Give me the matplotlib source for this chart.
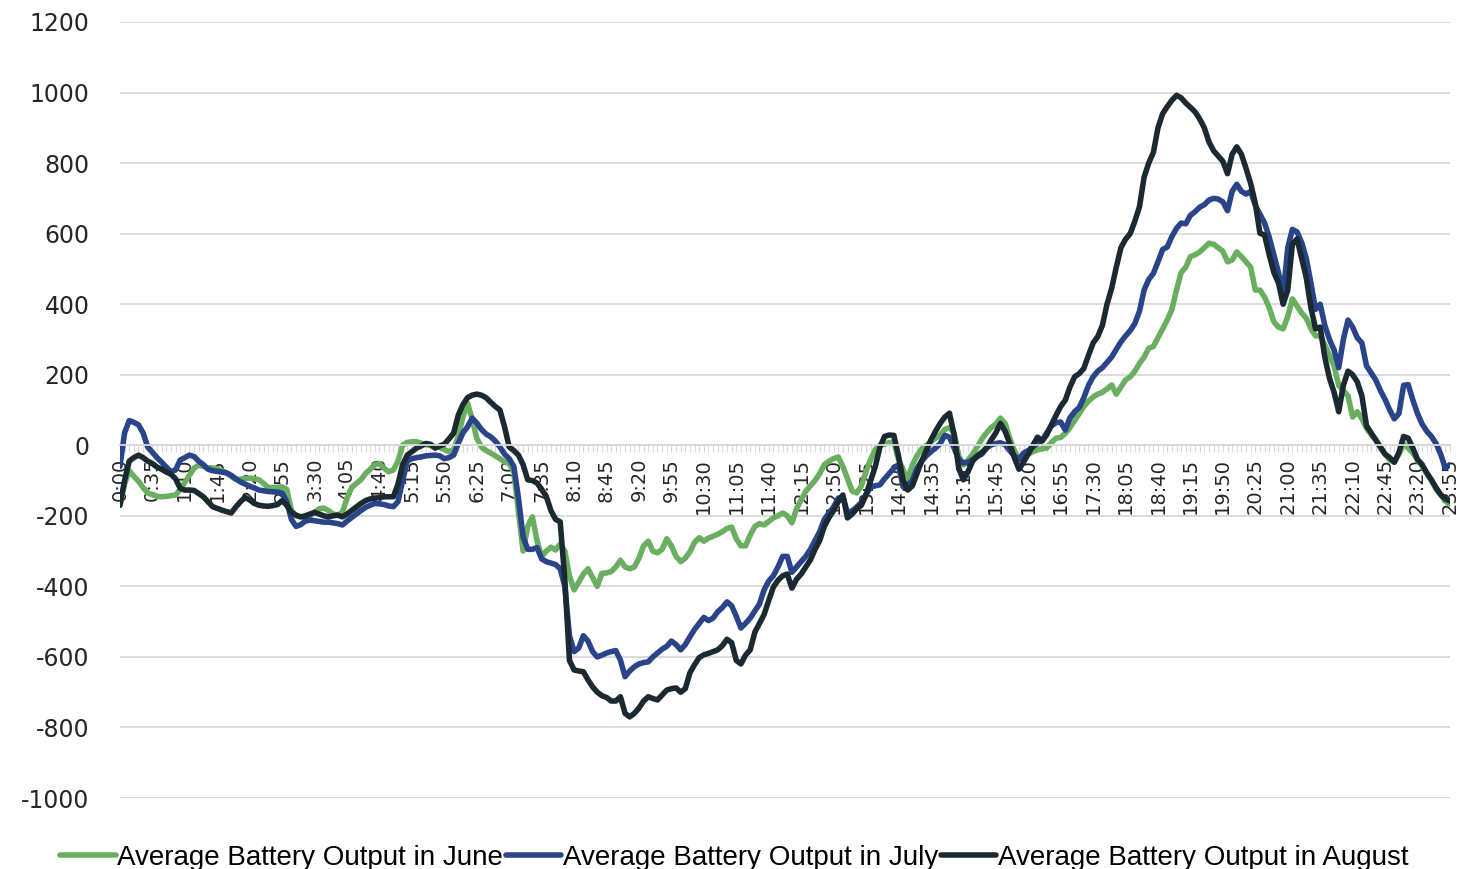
import numpy as np
import matplotlib.pyplot as plt

plt.rcParams['axes.unicode_minus'] = False

# 5-minute slots from 0:00 to 23:55
times = [f"{m // 60}:{m % 60:02d}" for m in range(0, 24 * 60, 5)]

# Average battery output per slot (one row per hour, 12 values each)
june = [
    -170, -110, -72, -88, -102, -120, -135, -140, -145, -146, -145, -143,
    -141, -125, -105, -85, -65, -56, -60, -64, -65, -66, -72, -79,
    -88, -97, -96, -94, -93, -95, -98, -108, -120, -120, -119, -118,
    -125, -185, -200, -203, -203, -200, -190, -180, -178, -185, -195, -198,
    -190, -150, -120, -108, -98, -80, -68, -55, -52, -65, -75, -70,
    -45, 0, 8, 10, 10, 6, 2, -1, -3, -6, -12, -18,
    -13, 25, 80, 120, 75, 20, -5, -15, -22, -30, -38, -47,
    -52, -75, -190, -300, -230, -203, -270, -315, -300, -289, -297, -280,
    -300, -370, -410, -388, -365, -350, -375, -400, -363, -362, -358, -345,
    -326, -345, -350, -345, -320, -285, -272, -300, -305, -295, -265, -285,
    -315, -330, -320, -302, -275, -262, -272, -263, -258, -252, -245, -236,
    -232, -265, -285, -285, -255, -230, -222, -226, -216, -206, -200, -192,
    -200, -220, -180, -155, -130, -115, -100, -80, -55, -45, -38, -33,
    -60, -95, -130, -135, -115, -75, -40, -12, 0, 3, 8, 10,
    -40, -70, -98, -55, -30, -10, 0, 10, 20, 29, 45, 50,
    35, -30, -56, -42, -25, -5, 18, 35, 50, 60, 77, 62,
    20, -15, -40, -35, -25, -18, -13, -10, -8, 8, 20, 22,
    34, 50, 70, 90, 110, 125, 137, 145, 150, 160, 171, 145,
    165, 185, 194, 210, 232, 250, 275, 280, 305, 330, 355, 385,
    440, 490, 505, 535, 540, 548, 560, 573, 570, 560, 550, 520,
    525, 548, 535, 520, 505, 440, 440, 420, 390, 350, 335, 330,
    365, 415, 395, 375, 360, 330, 310, 310, 285, 255, 225, 170,
    155, 140, 80, 95, 75, 48, 30, 15, -8, -25, -42, -48,
    -25, 5, -8, -22, -42, -58, -80, -100, -125, -140, -158, -168,
]

july = [
    -60, 35, 70, 65, 58, 35, -5, -20, -35, -48, -62, -75,
    -70, -42, -35, -28, -32, -45, -55, -68, -72, -74, -76, -78,
    -85, -95, -104, -110, -116, -121, -127, -129, -131, -132, -133, -135,
    -160, -210, -230, -225, -215, -212, -214, -216, -218, -218, -220, -222,
    -226, -215, -205, -195, -185, -176, -170, -165, -166, -168, -172, -174,
    -160, -100, -45, -38, -35, -33, -30, -29, -28, -30, -38, -35,
    -28, 5, 35, 52, 77, 63, 45, 32, 24, 12, -5, -25,
    -38, -60, -150, -260, -295, -295, -290, -322, -330, -334, -338, -350,
    -400, -540, -585, -575, -540, -555, -585, -600, -595, -589, -585, -582,
    -609, -656, -640, -628, -620, -616, -614, -600, -589, -578, -570, -555,
    -565, -580, -565, -543, -522, -505, -488, -497, -490, -472, -460, -444,
    -455, -485, -518, -505, -490, -470, -450, -410, -385, -370, -345, -315,
    -315, -360, -345, -330, -315, -295, -270, -245, -210, -192, -175, -150,
    -146, -192, -186, -175, -162, -140, -118, -115, -112, -95, -80, -65,
    -55, -118, -112, -100, -65, -45, -30, -18, -8, 5, 28, 23,
    -8, -40, -50, -48, -40, -32, -25, -8, 1, 5, 7, 2,
    -15, -30, -40, -22, -15, -5, 5, 14, 35, 55, 64, 66,
    43, 78, 95, 107, 135, 170, 194, 210, 220, 235, 250, 272,
    293, 310, 325, 345, 380, 440, 470, 487, 520, 555, 562, 592,
    615, 630, 628, 652, 662, 675, 682, 695, 700, 698, 690, 665,
    720, 740, 720, 712, 720, 680, 655, 630, 590, 540, 490, 425,
    560, 612, 605, 575, 530, 460, 385, 400, 340, 300, 270, 220,
    300, 355, 335, 305, 290, 225, 205, 185, 155, 130, 100, 75,
    90, 170, 172, 128, 90, 60, 40, 25, 5, -25, -65, -55,
]

august = [
    -170, -100, -45, -35, -28, -35, -45, -52, -62, -68, -76, -82,
    -95, -122, -127, -127, -128, -137, -146, -160, -174, -179, -184, -188,
    -192, -175, -160, -148, -155, -165, -170, -172, -173, -171, -168, -157,
    -170, -190, -198, -203, -200, -195, -190, -195, -200, -203, -200, -198,
    -203, -195, -185, -175, -165, -157, -152, -150, -148, -146, -146, -146,
    -110, -55, -28, -18, -8, -2, 5, 3, -8, -2, 3, 18,
    34, 85, 115, 135, 142, 145, 142, 135, 122, 110, 100, 52,
    -5, -15, -28, -55, -98, -100, -107, -125, -145, -185, -210, -217,
    -380, -610, -637, -640, -642, -665, -685, -700, -710, -715, -725, -725,
    -713, -760, -770, -760, -745, -725, -713, -718, -722, -708, -694, -690,
    -688, -700, -690, -645, -622, -602, -594, -590, -585, -580, -568, -550,
    -560, -610, -620, -595, -580, -530, -505, -480, -440, -402, -383, -370,
    -365, -405, -380, -365, -345, -325, -295, -270, -230, -205, -185, -160,
    -141, -206, -195, -180, -170, -140, -100, -60, -5, 25, 29, 28,
    -30, -100, -127, -115, -80, -45, -15, 15, 40, 62, 80, 91,
    30, -65, -98, -75, -45, -30, -20, -8, 15, 35, 62, 40,
    5, -35, -68, -47, -25, 0, 23, 12, 30, 58, 85, 110,
    128, 165, 194, 203, 218, 255, 290, 308, 340, 400, 445, 505,
    560, 584, 600, 635, 676, 760, 800, 830, 900, 940, 960, 978,
    992, 985, 970, 958, 945, 925, 900, 860, 835, 820, 805, 770,
    825, 846, 825, 785, 742, 686, 601, 596, 540, 490, 460, 400,
    440, 570, 585, 530, 475, 390, 330, 335, 250, 190, 150, 95,
    170, 210, 200, 180, 140, 55, 35, 15, -5, -25, -35, -48,
    -20, 25, 20, -8, -40, -55, -78, -98, -120, -140, -152, -158,
]

series_names = ['Average Battery Output in June',
                'Average Battery Output in July',
                'Average Battery Output in August']
colors = ['#6aaf5f', '#2a4489', '#1b2a32']

fig = plt.figure(figsize=(14.68, 8.69), dpi=100)
ax = fig.add_axes([0.0817, 0.0817, 0.906, 0.893])

x = np.arange(len(times))
for vals, name, c in zip([june, july, august], series_names, colors):
    ax.plot(x, vals, color=c, lw=4, label=name,
            solid_joinstyle='round', solid_capstyle='round')

ax.set_xlim(0, len(times) - 1)
ax.set_ylim(-1000, 1200)
ax.set_yticks(np.arange(-1000, 1201, 200))
ax.grid(axis='y', color='#d9d9d9', lw=1.3)
ax.set_axisbelow(True)

for s in ['top', 'right', 'left']:
    ax.spines[s].set_visible(False)
ax.spines['bottom'].set_position(('data', 0))
ax.spines['bottom'].set_color('#d9d9d9')
ax.spines['bottom'].set_linewidth(1.3)

ax.set_xticks(x)
ax.set_xticklabels([t if i % 7 == 0 else '' for i, t in enumerate(times)],
                   rotation=90, fontsize=14, color='#262626')
ax.tick_params(axis='x', length=5, color='#d9d9d9', pad=4)
ax.tick_params(axis='y', length=0, labelsize=17, labelcolor='#262626', pad=22)

fig.legend(loc='center', bbox_to_anchor=(0.5, 0.013), ncol=3, frameon=False,
           prop={'family': ['Liberation Sans', 'DejaVu Sans'], 'size': 20},
           handlelength=2.0, handletextpad=0.05, columnspacing=0.1)

plt.savefig('out.png', dpi=100)
